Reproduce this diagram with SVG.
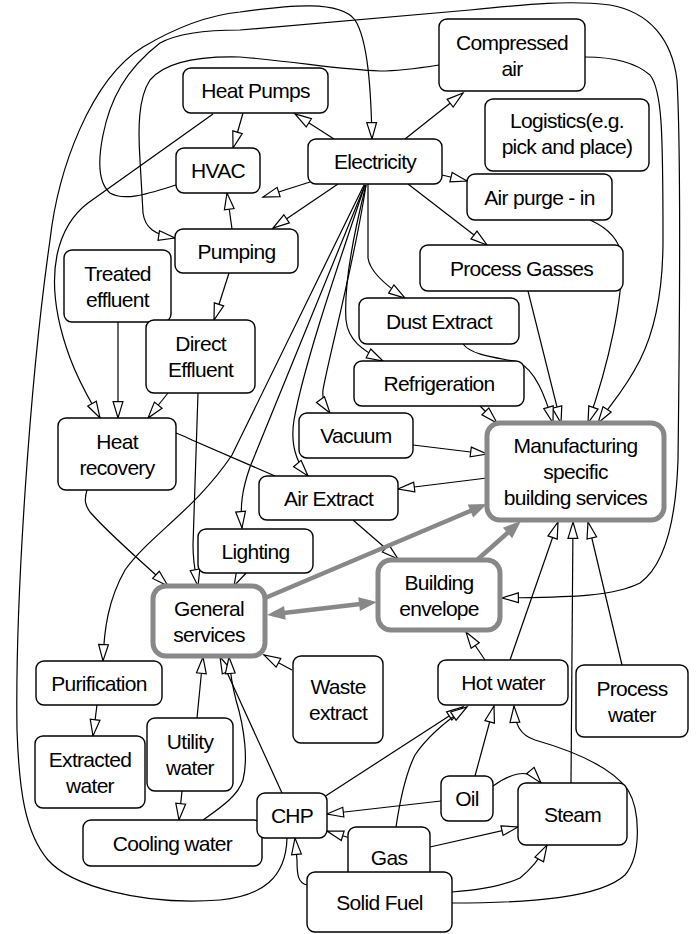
<svg xmlns="http://www.w3.org/2000/svg" width="696" height="934" viewBox="0 0 696 934">
<style>
.n rect{fill:#fff;stroke:#000;stroke-width:1.4}
.k rect{fill:#fff;stroke:#888;stroke-width:5}
text{font-family:"Liberation Sans",Arial,sans-serif;font-size:21px;letter-spacing:-0.7px;text-anchor:middle;fill:#000}
#edges path{fill:none;stroke:#000;stroke-width:1.2;marker-end:url(#a)}
#edges path.plain{marker-end:none}
#edges path.gray{stroke:#888;stroke-width:4.5;marker-end:url(#g)}
#edges path.both{marker-start:url(#g)}
</style>
<defs>
<marker id="a" viewBox="0 0 17 11" refX="17" refY="5.5" markerWidth="17" markerHeight="11" markerUnits="userSpaceOnUse" orient="auto" overflow="visible"><path d="M0.6,0.6 L17,5.5 L0.6,10.4 Z" fill="#fff" stroke="#000" stroke-width="1.2"/></marker>
<marker id="g" viewBox="0 0 18 14" refX="12" refY="7" markerWidth="18" markerHeight="14" markerUnits="userSpaceOnUse" orient="auto-start-reverse" overflow="visible"><path d="M0,0 L18,7 L0,14 Z" fill="#888"/></marker>
</defs>
<rect width="696" height="934" fill="#fff"/>
<g id="edges">
<path d="M243 113 L233 148"/>
<path d="M334 139 L295 114"/>
<path d="M310 182 L263 197"/>
<path d="M338 184 L273 228"/>
<path d="M405 139 L463 93"/>
<path d="M442 175 L467 181"/>
<path d="M408 184 L487 245"/>
<path d="M368 184 L368 258 C370 272 385 285 405 298"/>
<path d="M366 185 C352 240 344 290 346 320 C348 340 362 350 383 361"/>
<path d="M366 185 C355 260 328 360 323 390 C322 400 325 406 330 413"/>
<path d="M365 185 C340 260 305 360 294 420 C290 445 296 462 308 476"/>
<path d="M365 185 L250 467 C242 490 240 505 242 528"/>
<path d="M364 185 L232 455 C195 510 150 535 125 570 C108 600 104 630 103 661"/>
<path d="M287 838 C286 878 262 896 220 900 C140 906 70 885 48 860 C25 833 19 790 17 730 C15 600 30 380 50 240 C58 170 90 80 143 47 C175 28 210 15 240 12 C290 5 340 0 355 20 C368 40 371 90 372 139"/>
<path d="M176 185 C150 193 125 202 110 193 C98 183 98 160 103 135 C110 100 125 70 160 43 C180 32 210 30 240 30 L470 10 C530 4 570 0 610 5 C650 12 672 40 677 80 C681 150 680 300 678 460 C676 520 665 565 640 583 C610 598 560 597 502 598"/>
<path d="M439 65 C420 68 400 71 380 71 C340 70 300 62 240 57 C200 56 165 62 150 80 C138 98 138 130 140 160 L143 213 C145 228 155 235 175 238"/>
<path d="M213 114 L88 203 C72 215 62 232 57 255 C51 285 56 320 70 358 C80 385 90 400 100 418"/>
<path d="M118 322 L118 418"/>
<path d="M168 393 L148 418"/>
<path d="M229 273 L214 320"/>
<path d="M232 229 L227 193"/>
<path d="M528 291 L561 423"/>
<path d="M463 344 C472 356 500 358 518 362 C535 370 545 395 553 423"/>
<path d="M590 220 C608 228 621 240 622 260 C622 300 610 360 588 423"/>
<path d="M585 57 C610 57 635 62 650 75 C662 90 663 130 663 240 C663 290 655 330 640 360 C625 390 610 405 598 423"/>
<path d="M480 406 L497 423"/>
<path d="M413 445 L487 454"/>
<path d="M487 478 L398 489"/>
<path d="M353 520 L398 559"/>
<path class="plain" d="M176 433 C184 436 188 438 192 440 L275 476"/>
<path d="M87 490 C84 500 85 505 90 512 C110 535 140 560 168 586"/>
<path d="M198 393 L193 545 C193 565 196 575 198 586"/>
<path d="M243 568 L234 586"/>
<path d="M510 660 L558 522"/>
<path d="M571 783 L573 522"/>
<path d="M622 665 L588 522"/>
<path d="M485 660 L466 632"/>
<path d="M292 670 L264 655"/>
<path d="M197 718 L203 657"/>
<path d="M282 793 L220 657"/>
<path d="M203 820 C220 808 238 796 243 780 C248 760 245 730 236 700 C232 685 230 670 229 657"/>
<path d="M182 791 L179 820"/>
<path d="M97 705 L93 736"/>
<path d="M441 801 L327 814"/>
<path d="M350 838 L327 831"/>
<path d="M307 885 C298 883 297 875 297 860 L295 838"/>
<path d="M324 797 L463 707"/>
<path d="M396 827 C400 800 405 775 415 755 C425 740 440 725 467 707"/>
<path d="M475 776 L494 706"/>
<path d="M452 903 C530 903 600 898 625 875 C642 855 640 810 628 790 C610 765 570 750 535 740 C520 735 515 725 514 706"/>
<path d="M452 892 C480 890 505 885 520 878 C530 870 540 858 547 845"/>
<path d="M430 847 L518 827"/>
<path d="M493 786 C500 781 508 776 518 774 C528 772 535 776 541 783"/>
<path class="gray" d="M265 598 L481.5 506.3"/>
<path class="gray" d="M477 560 L516.5 525"/>
<path class="gray both" d="M273 614.3 L371 602.7"/>
</g>
<g id="compressed" class="n"><rect x="439" y="19" width="146" height="72" rx="8"/><text x="512" y="49.5">Compressed</text><text x="512" y="75.5">air</text></g>
<g id="logistics" class="n"><rect x="485" y="99" width="164" height="72" rx="8"/><text x="567" y="128">Logistics(e.g.</text><text x="567" y="154">pick and place)</text></g>
<g id="airpurge" class="n"><rect x="467" y="174" width="145" height="46" rx="8"/><text x="539.5" y="204.5">Air purge - in</text></g>
<g id="heatpumps" class="n"><rect x="183" y="68" width="145" height="45" rx="8"/><text x="255.5" y="98">Heat Pumps</text></g>
<g id="hvac" class="n"><rect x="176" y="148" width="84" height="45" rx="8"/><text x="218" y="178">HVAC</text></g>
<g id="electricity" class="n"><rect x="308" y="139" width="134" height="45" rx="8"/><text x="375" y="169">Electricity</text></g>
<g id="pumping" class="n"><rect x="175" y="229" width="123" height="44" rx="8"/><text x="236.5" y="258.5">Pumping</text></g>
<g id="treated" class="n"><rect x="64" y="250" width="107" height="72" rx="8"/><text x="117.5" y="280.5">Treated</text><text x="117.5" y="306.5">effluent</text></g>
<g id="direct" class="n"><rect x="146" y="320" width="109" height="73" rx="8"/><text x="200.5" y="351">Direct</text><text x="200.5" y="377">Effluent</text></g>
<g id="heatrecovery" class="n"><rect x="58" y="418" width="118" height="72" rx="8"/><text x="117" y="448.5">Heat</text><text x="117" y="474.5">recovery</text></g>
<g id="processgasses" class="n"><rect x="420" y="245" width="203" height="46" rx="8"/><text x="521.5" y="275.5">Process Gasses</text></g>
<g id="dust" class="n"><rect x="359" y="298" width="160" height="46" rx="8"/><text x="439" y="328.5">Dust Extract</text></g>
<g id="refrigeration" class="n"><rect x="354" y="361" width="170" height="45" rx="8"/><text x="439" y="391">Refrigeration</text></g>
<g id="vacuum" class="n"><rect x="299" y="413" width="114" height="45" rx="8"/><text x="356" y="443">Vacuum</text></g>
<g id="manufacturing" class="k"><rect x="487" y="423" width="177" height="97" rx="13"/><text x="575.5" y="453">Manufacturing</text><text x="575.5" y="479">specific</text><text x="575.5" y="505">building services</text></g>
<g id="airextract" class="n"><rect x="259" y="476" width="139" height="44" rx="8"/><text x="328.5" y="505.5">Air Extract</text></g>
<g id="lighting" class="n"><rect x="198" y="529" width="115" height="44" rx="8"/><text x="255.5" y="558.5">Lighting</text></g>
<g id="general" class="k"><rect x="153" y="586" width="112" height="70" rx="13"/><text x="209" y="615.5">General</text><text x="209" y="641.5">services</text></g>
<g id="envelope" class="k"><rect x="378" y="560" width="122" height="70" rx="13"/><text x="439" y="589.5">Building</text><text x="439" y="615.5">envelope</text></g>
<g id="purification" class="n"><rect x="36" y="661" width="126" height="44" rx="8"/><text x="99" y="690.5">Purification</text></g>
<g id="extracted" class="n"><rect x="35" y="736" width="110" height="72" rx="8"/><text x="90" y="766.5">Extracted</text><text x="90" y="792.5">water</text></g>
<g id="utility" class="n"><rect x="147" y="718" width="86" height="73" rx="8"/><text x="190" y="749">Utility</text><text x="190" y="775">water</text></g>
<g id="cooling" class="n"><rect x="83" y="820" width="179" height="46" rx="8"/><text x="172.5" y="850.5">Cooling water</text></g>
<g id="waste" class="n"><rect x="293" y="656" width="90" height="87" rx="8"/><text x="338" y="694">Waste</text><text x="338" y="720">extract</text></g>
<g id="hotwater" class="n"><rect x="438" y="660" width="130" height="45" rx="8"/><text x="503" y="690">Hot water</text></g>
<g id="processwater" class="n"><rect x="576" y="665" width="112" height="72" rx="8"/><text x="632" y="695.5">Process</text><text x="632" y="721.5">water</text></g>
<g id="chp" class="n"><rect x="257" y="793" width="70" height="45" rx="8"/><text x="292" y="823">CHP</text></g>
<g id="oil" class="n"><rect x="441" y="776" width="52" height="45" rx="8"/><text x="467" y="806">Oil</text></g>
<g id="steam" class="n"><rect x="518" y="783" width="109" height="62" rx="8"/><text x="572.5" y="821.5">Steam</text></g>
<g id="gas" class="n"><rect x="348" y="827" width="82" height="61" rx="8"/><text x="389" y="865">Gas</text></g>
<g id="solidfuel" class="n"><rect x="307" y="872" width="145" height="60" rx="8"/><text x="379.5" y="909.5">Solid Fuel</text></g>
</svg>
